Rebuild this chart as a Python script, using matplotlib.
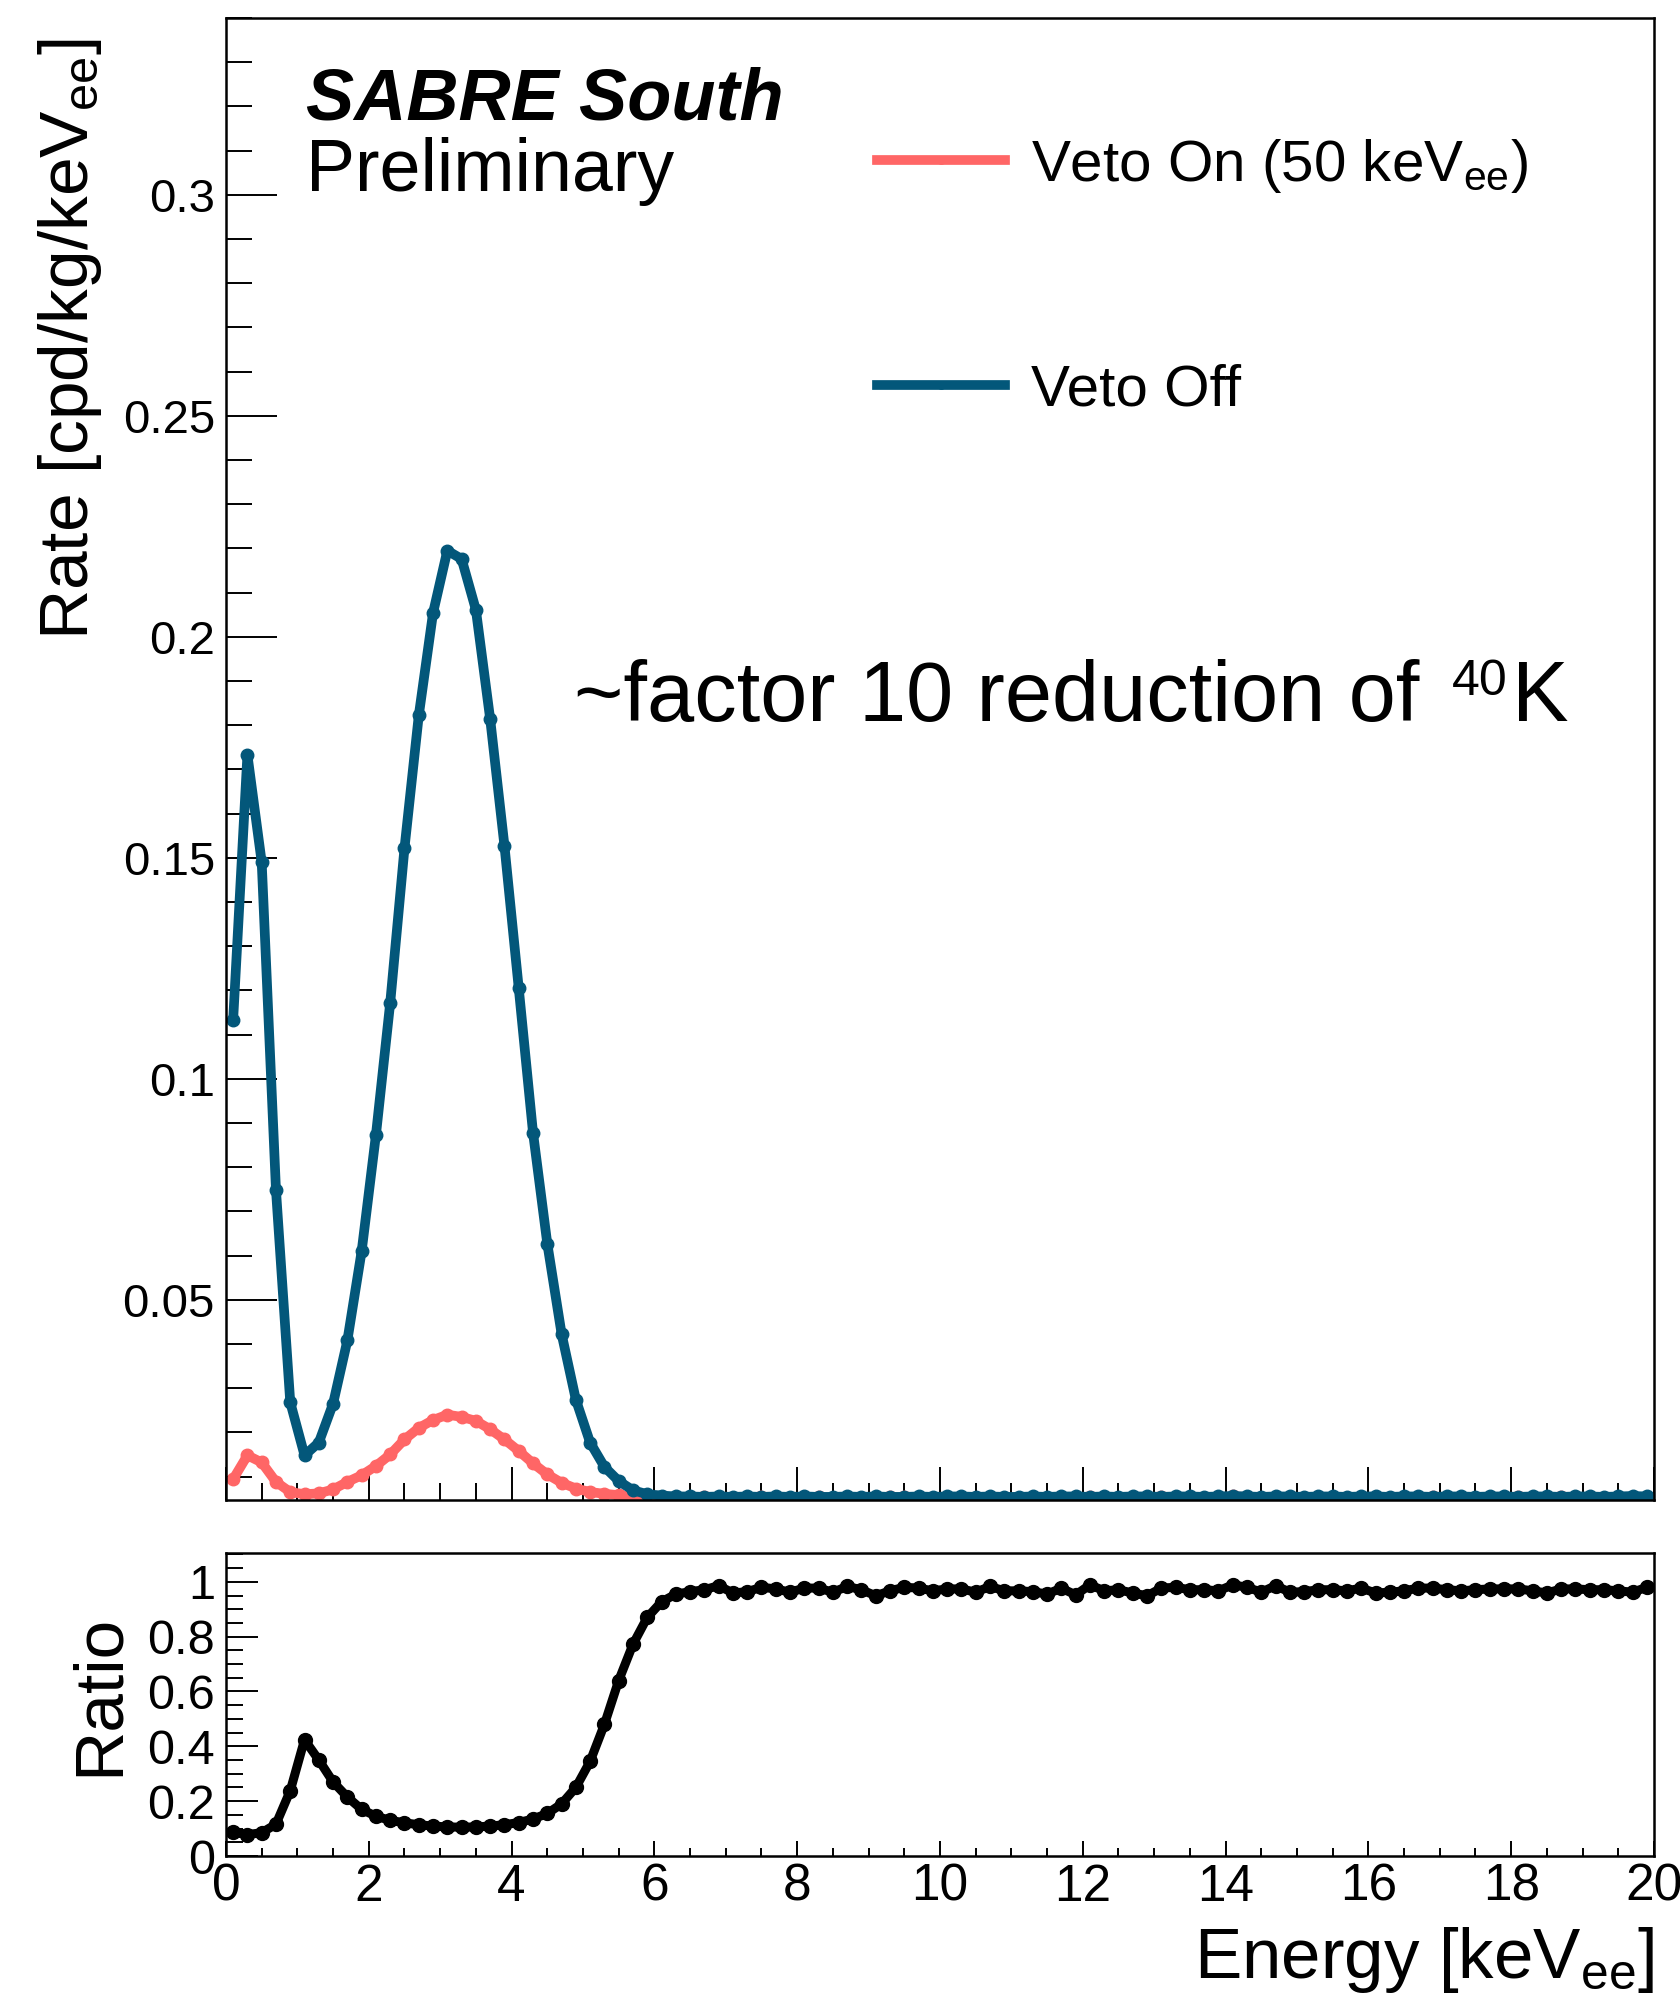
import numpy as np
import matplotlib
matplotlib.use("Agg")
import matplotlib.pyplot as plt
from matplotlib import font_manager
from matplotlib.ticker import MultipleLocator, FormatStrFormatter

names = {f.name for f in font_manager.fontManager.ttflist}
REG = "Liberation Sans"
NARROW = "Liberation Sans Narrow" if "Liberation Sans Narrow" in names else REG
plt.rcParams['font.family'] = [REG, 'DejaVu Sans']

# bin centres, 0.2 keV bins
energy = np.round(np.arange(0.1, 20.0, 0.2), 1)

veto_off = [
    0.1133, 0.1733, 0.1490, 0.0748, 0.0268, 0.0148, 0.0177, 0.0265, 0.0408, 0.0610,
    0.0873, 0.1172, 0.1522, 0.1822, 0.2054, 0.2195, 0.2176, 0.2061, 0.1814, 0.1527,
    0.1205, 0.0878, 0.0627, 0.0423, 0.0274, 0.0177, 0.0122, 0.0090, 0.0069, 0.0060,
    0.0057, 0.0055, 0.0055, 0.0054, 0.0055, 0.0054, 0.0055, 0.0054, 0.0055, 0.0054,
    0.0055, 0.0054, 0.0054, 0.0055, 0.0054, 0.0055, 0.0054, 0.0054, 0.0055, 0.0054,
    0.0055, 0.0055, 0.0054, 0.0055, 0.0054, 0.0054, 0.0055, 0.0054, 0.0055, 0.0055,
    0.0054, 0.0055, 0.0054, 0.0055, 0.0055, 0.0054, 0.0055, 0.0055, 0.0054, 0.0055,
    0.0056, 0.0055, 0.0054, 0.0055, 0.0055, 0.0054, 0.0055, 0.0055, 0.0054, 0.0055,
    0.0055, 0.0054, 0.0055, 0.0055, 0.0054, 0.0055, 0.0055, 0.0054, 0.0055, 0.0055,
    0.0054, 0.0055, 0.0055, 0.0054, 0.0055, 0.0055, 0.0054, 0.0055, 0.0056, 0.0055,
]

veto_on = [
    0.0094, 0.0148, 0.0132, 0.0088, 0.0065, 0.0060, 0.0062, 0.0071, 0.0088, 0.0103,
    0.0124, 0.0150, 0.0184, 0.0210, 0.0228, 0.0240, 0.0235, 0.0226, 0.0207, 0.0184,
    0.0158, 0.0130, 0.0105, 0.0086, 0.0073, 0.0065, 0.0061, 0.0058, 0.0054, 0.0053,
    0.0053, 0.0053, 0.0053, 0.0053, 0.0054, 0.0052, 0.0053, 0.0053, 0.0053, 0.0052,
    0.0053, 0.0053, 0.0052, 0.0054, 0.0052, 0.0052, 0.0053, 0.0053, 0.0053, 0.0052,
    0.0054, 0.0054, 0.0052, 0.0054, 0.0052, 0.0052, 0.0053, 0.0052, 0.0054, 0.0052,
    0.0053, 0.0053, 0.0052, 0.0053, 0.0052, 0.0053, 0.0054, 0.0053, 0.0052, 0.0053,
    0.0055, 0.0054, 0.0052, 0.0054, 0.0053, 0.0052, 0.0053, 0.0053, 0.0052, 0.0054,
    0.0053, 0.0052, 0.0053, 0.0054, 0.0053, 0.0053, 0.0053, 0.0052, 0.0054, 0.0054,
    0.0053, 0.0053, 0.0053, 0.0053, 0.0054, 0.0053, 0.0052, 0.0053, 0.0054, 0.0054,
]

ratio = [
    0.086, 0.078, 0.085, 0.116, 0.238, 0.424, 0.350, 0.270, 0.215, 0.170,
    0.145, 0.130, 0.121, 0.114, 0.109, 0.106, 0.105, 0.106, 0.109, 0.114,
    0.122, 0.135, 0.155, 0.190, 0.250, 0.345, 0.480, 0.640, 0.772, 0.870,
    0.927, 0.955, 0.964, 0.971, 0.986, 0.959, 0.964, 0.980, 0.974, 0.962,
    0.977, 0.977, 0.962, 0.983, 0.971, 0.949, 0.967, 0.980, 0.977, 0.967,
    0.974, 0.974, 0.962, 0.983, 0.967, 0.967, 0.964, 0.955, 0.977, 0.952,
    0.989, 0.967, 0.971, 0.959, 0.949, 0.977, 0.980, 0.971, 0.971, 0.967,
    0.989, 0.980, 0.962, 0.986, 0.962, 0.964, 0.971, 0.971, 0.967, 0.977,
    0.959, 0.962, 0.967, 0.977, 0.977, 0.971, 0.967, 0.971, 0.974, 0.974,
    0.974, 0.967, 0.959, 0.974, 0.974, 0.971, 0.971, 0.967, 0.962, 0.980,
]

RED = '#FF6666'
BLUE = '#03577A'
W, H = 1681, 2000

fig = plt.figure(figsize=(16.81, 20), dpi=100)
fig.patch.set_facecolor('white')

ax = fig.add_axes([226 / W, 1 - 1500 / H, 1428 / W, 1482 / H])
axr = fig.add_axes([226 / W, 1 - 1856 / H, 1428 / W, 303 / H])

l_on, = ax.plot(energy, veto_on, color=RED, lw=7, marker='o', ms=9,
                label=r'Veto On (50 keV$\mathregular{_{ee}}$)')
l_off, = ax.plot(energy, veto_off, color=BLUE, lw=7, marker='o', ms=9,
                 label='Veto Off')
ax.set_xlim(0, 20)
ax.set_ylim(0.0047, 0.340)
ax.xaxis.set_major_locator(MultipleLocator(2))
ax.xaxis.set_minor_locator(MultipleLocator(0.5))
ax.yaxis.set_major_locator(MultipleLocator(0.05))
ax.yaxis.set_minor_locator(MultipleLocator(0.01))
ax.yaxis.set_major_formatter(FormatStrFormatter('%g'))
ax.tick_params(axis='x', which='major', direction='in', length=24, width=1.4, labelbottom=False)
ax.tick_params(axis='x', which='minor', direction='in', length=12, width=1.4)
ax.tick_params(axis='y', which='major', direction='in', length=37, width=1.4, labelsize=34, pad=8)
ax.tick_params(axis='y', which='minor', direction='in', length=19, width=1.4)

axr.plot(energy, ratio, color='black', lw=6.5, marker='o', ms=10)
axr.set_xlim(0, 20)
axr.set_ylim(0, 1.105)
axr.xaxis.set_major_locator(MultipleLocator(2))
axr.xaxis.set_minor_locator(MultipleLocator(0.5))
axr.yaxis.set_major_locator(MultipleLocator(0.2))
axr.yaxis.set_minor_locator(MultipleLocator(0.05))
axr.xaxis.set_major_formatter(FormatStrFormatter('%g'))
axr.yaxis.set_major_formatter(FormatStrFormatter('%g'))
axr.tick_params(axis='x', which='major', direction='in', length=11, width=1.4,
                labelsize=37, pad=5, labelfontfamily=NARROW)
axr.tick_params(axis='x', which='minor', direction='in', length=6, width=1.4)
axr.tick_params(axis='y', which='major', direction='in', length=23, width=1.4,
                labelsize=35, pad=8, labelfontfamily=NARROW)
axr.tick_params(axis='y', which='minor', direction='in', length=12, width=1.4)

for a in (ax, axr):
    for s in a.spines.values():
        s.set_linewidth(1.8)

ax.legend(handles=[l_on, l_off], loc='upper left', bbox_to_anchor=(0.456, 0.920),
          frameon=False, prop={'family': NARROW, 'size': 42}, handlelength=2.19,
          handletextpad=0.45, labelspacing=2.9, borderpad=0, borderaxespad=0,
          numpoints=1, markerscale=0.6)

fig.text(306 / W, 1 - 119 / H, 'SABRE South', fontsize=52, fontweight='bold',
         fontstyle='italic', va='baseline', ha='left')
fig.text(306 / W, 1 - 191 / H, 'Preliminary', fontsize=53, va='baseline', ha='left')

# annotation with a small raised "40" before the K
t_main = fig.text(574 / W, 1 - 721 / H, '~factor 10 reduction of',
                  fontsize=61, va='baseline', ha='left')
fig.canvas.draw()
x_end = t_main.get_window_extent().x1
t_sup = fig.text((x_end + 33) / W, 1 - 695 / H, '40', fontsize=36,
                 va='baseline', ha='left')
fig.canvas.draw()
x_sup = t_sup.get_window_extent().x1
fig.text((x_sup + 4) / W, 1 - 721 / H, 'K', fontsize=61, va='baseline', ha='left')

fig.text(70 / W, 1 - 38 / H, r'Rate [cpd/kg/keV$\mathregular{_{ee}}$]', rotation=90,
         fontsize=50, ha='center', va='top')
fig.text(100 / W, 1 - 1695 / H, 'Ratio', rotation=90, fontsize=50, ha='center', va='center')
fig.text(1654 / W, 1 - 1960 / H, r'Energy [keV$\mathregular{_{ee}}$]', fontsize=51,
         ha='right', va='center')

fig.savefig('out.png', dpi=100, facecolor='white')
